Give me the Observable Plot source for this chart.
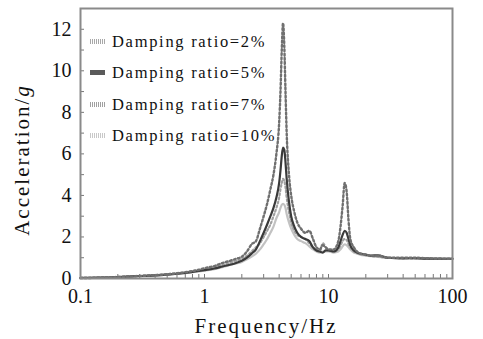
<!DOCTYPE html>
<html>
<head>
<meta charset="utf-8">
<script src="https://cdn.jsdelivr.net/npm/d3@7"></script>
<script src="https://cdn.jsdelivr.net/npm/@observablehq/plot@0.6"></script>
<style>
  html, body { margin: 0; padding: 0; background: #fff; }
  #wrap { position: relative; width: 483px; height: 339px; }
  #legend { position: absolute; left: 90px; top: 26px; font-family: "Liberation Serif", "Times New Roman", "DejaVu Serif", serif; font-size: 16.5px; letter-spacing: 1.7px; color: #111; }
  #legend .row { display: flex; align-items: center; height: 31.5px; }
  #legend svg { margin-right: 7px; }
</style>
</head>
<body>
<div id="wrap"><div id="legend"></div></div>
<script>
const freq = [0.1,0.15,0.2,0.3,0.4,0.5,0.6,0.7,0.8,0.9,1.0,1.2,1.4,1.6,1.8,2.0,2.2,2.4,2.6,2.8,3.0,3.2,3.4,3.6,3.8,4.0,4.1,4.2,4.3,4.4,4.5,4.6,4.8,5.0,5.3,5.6,6.0,6.5,7.0,7.5,8,8.5,9,9.5,10,11,12,12.5,13,13.5,14,14.5,15,16,17,18,20,22,25,30,40,50,60,80,100];
const acc2 = [0.02,0.04,0.07,0.12,0.16,0.2,0.25,0.3,0.36,0.42,0.5,0.6,0.75,0.85,0.95,1.05,1.3,1.65,1.8,2.4,3.0,3.6,4.3,5.0,6.0,7.5,9.0,11.0,12.3,11.2,9.0,7.0,5.0,4.0,3.2,2.7,2.4,2.2,2.3,1.9,1.5,1.4,1.6,1.5,1.4,1.4,1.8,2.5,3.5,4.6,4.2,2.8,1.9,1.5,1.3,1.2,1.15,1.1,1.1,1.0,1.0,1.0,0.98,0.96,0.95];
const acc5 = [0.03,0.04,0.07,0.12,0.15,0.19,0.23,0.27,0.32,0.36,0.4,0.48,0.58,0.66,0.75,0.85,1.0,1.2,1.4,1.8,2.2,2.6,3.0,3.4,3.9,4.6,5.2,5.9,6.3,6.2,5.6,4.8,3.7,3.0,2.5,2.2,2.0,1.9,1.8,1.5,1.35,1.3,1.25,1.35,1.35,1.3,1.5,1.8,2.1,2.3,2.2,1.9,1.6,1.35,1.25,1.2,1.15,1.1,1.12,1.0,0.97,0.98,0.96,0.95,0.95];
const acc7 = [0.03,0.05,0.08,0.13,0.17,0.21,0.26,0.3,0.35,0.4,0.45,0.55,0.65,0.75,0.85,0.95,1.1,1.3,1.5,1.7,2.0,2.3,2.6,3.0,3.4,3.9,4.3,4.6,4.8,4.7,4.4,3.9,3.2,2.7,2.3,2.1,2.0,1.9,1.7,1.5,1.35,1.3,1.7,1.5,1.35,1.3,1.4,1.6,1.8,1.9,1.85,1.65,1.5,1.3,1.22,1.18,1.12,1.08,1.05,1.0,0.98,0.97,0.96,0.95,0.95];
const acc10 = [0.02,0.04,0.06,0.11,0.14,0.18,0.22,0.26,0.3,0.34,0.38,0.45,0.55,0.65,0.72,0.8,0.92,1.05,1.2,1.4,1.65,1.9,2.2,2.5,2.9,3.2,3.4,3.55,3.6,3.55,3.4,3.1,2.7,2.4,2.1,1.9,1.8,1.7,1.55,1.4,1.3,1.25,1.3,1.3,1.3,1.25,1.3,1.4,1.55,1.65,1.6,1.5,1.4,1.25,1.2,1.15,1.1,1.07,1.04,1.0,0.98,0.97,0.96,0.95,0.95];
const seriesNames = ["Damping ratio=2%","Damping ratio=5%","Damping ratio=7%","Damping ratio=10%"];
const xMajor = [0.1,1,10,100];
const xMinor = [0.2,0.3,0.4,0.5,0.6,0.7,0.8,0.9,2,3,4,5,6,7,8,9,20,30,40,50,60,70,80,90];
const yMajor = [0,2,4,6,8,10,12];
const yMinor = [1,3,5,7,9,11];

const styles = [
  {stroke:"#707070", strokeWidth:2.4, strokeDasharray:"1.8,2.4"},
  {stroke:"#3a3a3a", strokeWidth:2.2, strokeDasharray:null},
  {stroke:"#a0a0a0", strokeWidth:2.2, strokeDasharray:"1.8,2.4"},
  {stroke:"#c2c2c2", strokeWidth:2.2, strokeDasharray:null}
];
const allSeries = [acc2, acc5, acc7, acc10];
const rows = (arr, name) => freq.map((f,i)=>({f, a: arr[i], name}));

const font = "'Liberation Serif', 'Times New Roman', 'DejaVu Serif', serif";
const lineMarks = [3,2,1,0].map(k => Plot.line(rows(allSeries[k], seriesNames[k]), {
  x:"f", y:"a", curve:"monotone-x",
  stroke: styles[k].stroke, strokeWidth: styles[k].strokeWidth,
  strokeDasharray: styles[k].strokeDasharray || undefined
}));

const chart = Plot.plot({
  width: 483, height: 339,
  marginLeft: 80, marginRight: 31, marginTop: 8, marginBottom: 61,
  style: {fontFamily: font, background: "#fff", color: "#111"},
  x: {type:"log", domain:[0.1,100]},
  y: {domain:[0,13]},
  marks: [
    ...lineMarks,
    Plot.axisX({ticks:[...xMajor, ...xMinor], tickSize:-4, text:null, stroke:"#777", label:null}),
    Plot.axisX({ticks:xMajor, tickSize:0, tickPadding:10, tickFormat:d=>String(d), fontSize:20, label:null}),
    Plot.axisY({ticks:[...yMajor, ...yMinor], tickSize:-4, text:null, stroke:"#777", label:null}),
    Plot.axisY({ticks:yMajor, tickSize:0, tickPadding:9, fontSize:20, label:null}),
    Plot.frame({stroke:"#8a8a8a", strokeWidth:2})
  ]
});
chart.style.position = "absolute";
chart.style.left = "0px";
chart.style.top = "0px";
const svgNS = "http://www.w3.org/2000/svg";
const xt = document.createElementNS(svgNS, "text");
xt.setAttribute("x", 266); xt.setAttribute("y", 333);
xt.setAttribute("text-anchor","middle");
xt.setAttribute("font-size","21"); xt.setAttribute("style", "font-family:" + font);
xt.setAttribute("letter-spacing","2px"); xt.setAttribute("fill","#111");
xt.textContent = "Frequency/Hz";
chart.appendChild(xt);
const yt = document.createElementNS(svgNS, "text");
yt.setAttribute("transform","translate(29,160) rotate(-90)");
yt.setAttribute("text-anchor","middle");
yt.setAttribute("font-size","21"); yt.setAttribute("style", "font-family:" + font);
yt.setAttribute("letter-spacing","2px"); yt.setAttribute("fill","#111");
yt.innerHTML = 'Acceleration/<tspan font-style="italic">g</tspan>';
chart.appendChild(yt);
const wrap = document.getElementById("wrap");
wrap.insertBefore(chart, wrap.firstChild);

const swatchColors = ["#a8a8a8","#5a5a5a","#a0a0a0","#c8c8c8"];
const legend = document.getElementById("legend");
seriesNames.forEach((name, k) => {
  const row = document.createElement("div");
  row.className = "row";
  const dashed = k !== 1;
  row.innerHTML = `<svg width="15" height="8"><rect x="0" y="1" width="15" height="5" fill="${swatchColors[k]}"/>${dashed ? [1,3,5,7,9,11,13].map(x=>`<rect x="${x}" y="0" width="1" height="8" fill="#fff"/>`).join("") : ""}</svg><span>${name}</span>`;
  legend.appendChild(row);
});
</script>
</body>
</html>
